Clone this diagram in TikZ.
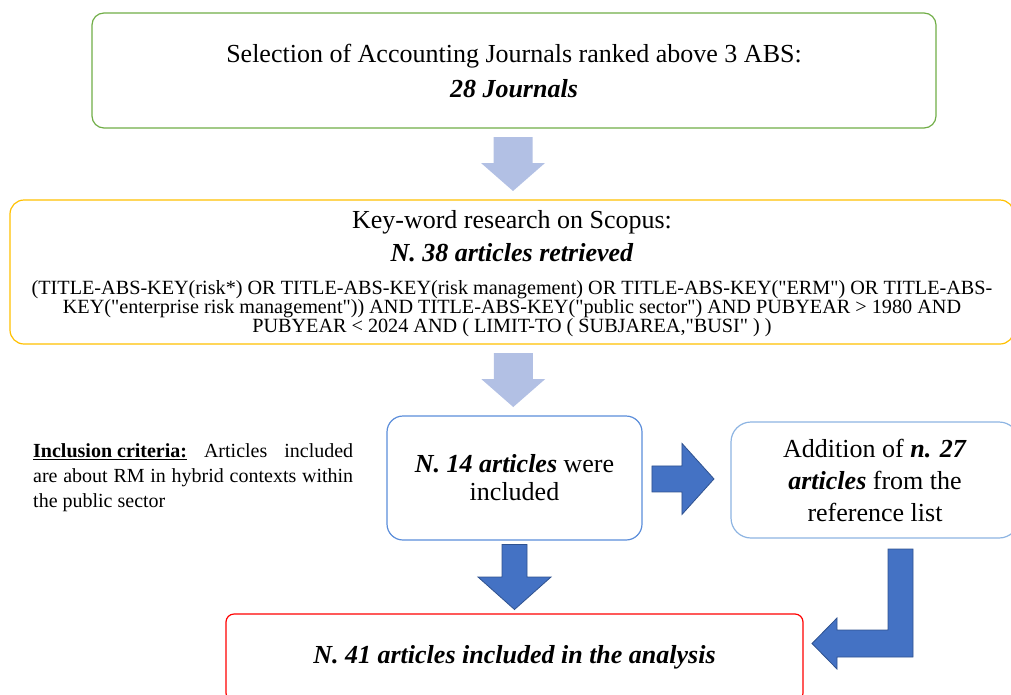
\documentclass[tikz,border=0pt]{standalone}
\usepackage{fontspec}
\setmainfont{Liberation Serif}[Ligatures=TeXOff]
\usetikzlibrary{positioning,calc}
\definecolor{boxgreen}{RGB}{112,173,71}
\definecolor{boxyellow}{RGB}{255,192,0}
\definecolor{boxblue}{RGB}{91,141,218}
\definecolor{boxpale}{RGB}{141,180,226}
\definecolor{arrowfill}{RGB}{68,114,196}
\definecolor{arrowedge}{RGB}{47,82,143}
\definecolor{arrowlight}{RGB}{178,192,228}
\tikzset{
  stagebox/.style={draw, line width=1.2pt, align=center, inner sep=0pt},
  bigfont/.style={font=\fontsize{26}{32}\selectfont},
  darkarrow/.style={fill=arrowfill, draw=arrowedge, line width=0.8pt},
  lightarrow/.style={fill=arrowlight},
  lightdown/.pic={\fill[lightarrow] (-19.5,-27) -- (19.5,-27) -- (19.5,-1) -- (32,-1) -- (0,27) -- (-32,-1) -- (-19.5,-1) -- cycle;},
  darkdown/.pic={\filldraw[darkarrow] (-12.5,-32.5) -- (12.5,-32.5) -- (12.5,0) -- (36.5,0) -- (0,32.5) -- (-36.5,0) -- (-12.5,0) -- cycle;},
  darkright/.pic={\filldraw[darkarrow] (-31,-13) -- (-1,-13) -- (-1,-35.5) -- (31,0) -- (-1,35.5) -- (-1,13) -- (-31,13) -- cycle;}
}
\begin{document}
\begin{tikzpicture}[x=1pt, y=-1pt]
\useasboundingbox (0,0) rectangle (1011,694);
% boxes
\node[stagebox, draw=boxgreen, rounded corners=12pt, minimum width=844pt, minimum height=115pt, font=\fontsize{26}{35}\selectfont] (journals) at (514,70.5) {Selection of Accounting Journals ranked above 3 ABS:\\\textbf{\textit{28 Journals}}};
\node[stagebox, draw=boxyellow, rounded corners=14pt, minimum width=1004pt, minimum height=144pt] (scopus) at (512,272) {};
\node[font=\fontsize{26}{33}\selectfont, align=center, inner sep=0pt, below=11pt of scopus.north] (keyword) {Key-word research on Scopus:\\\textbf{\textit{N. 38 articles retrieved}}};
\node[font=\fontsize{20.2}{19}\selectfont, align=center, inner sep=0pt, below=18pt of keyword] (query) {(TITLE-ABS-KEY(risk*) OR TITLE-ABS-KEY(risk management) OR TITLE-ABS-KEY("ERM") OR TITLE-ABS-\\KEY("enterprise risk management")) AND TITLE-ABS-KEY("public sector") AND PUBYEAR > 1980 AND\\PUBYEAR < 2024 AND ( LIMIT-TO ( SUBJAREA,"BUSI" ) )};
\node[stagebox, draw=boxblue, rounded corners=16pt, minimum width=255pt, minimum height=124pt, font=\fontsize{26}{28}\selectfont] (found14) at (514.5,478) {\textbf{\textit{N. 14 articles}} were\\included};
\node[stagebox, bigfont, draw=boxpale, rounded corners=20pt, minimum width=288pt, minimum height=116pt] (added) at (875,480) {Addition of \textbf{\textit{n. 27}}\\\textbf{\textit{articles}} from the\\reference list};
\node[stagebox, bigfont, draw=red, rounded corners=8pt, minimum width=577pt, minimum height=87pt] (final) at (514.5,657.5) {\textbf{\textit{N. 41 articles included in the analysis}}};
% side note
\node[anchor=north west, text width=320pt, align=justify, inner sep=0pt, font=\fontsize{20}{25}\selectfont] (criteria) at (33,443) {\underline{\textbf{Inclusion criteria:}} Articles included are about RM in hybrid contexts within the public sector};
% arrows
\pic at ($(journals.south)!0.5!(scopus.north)$) {lightdown};
\pic at ($(scopus.south)!0.5!(found14.north)$) {lightdown};
\pic at ($(found14.south)!0.5!(final.north)$) {darkdown};
\pic at ($(found14.east)!0.46!(added.west)$) {darkright};
\filldraw[darkarrow] (888,549) -- (913,549) -- (913,657) -- (837,657) -- (837,669) -- (812,643.5) -- (837,618) -- (837,630) -- (888,630) -- cycle;
\end{tikzpicture}
\end{document}
